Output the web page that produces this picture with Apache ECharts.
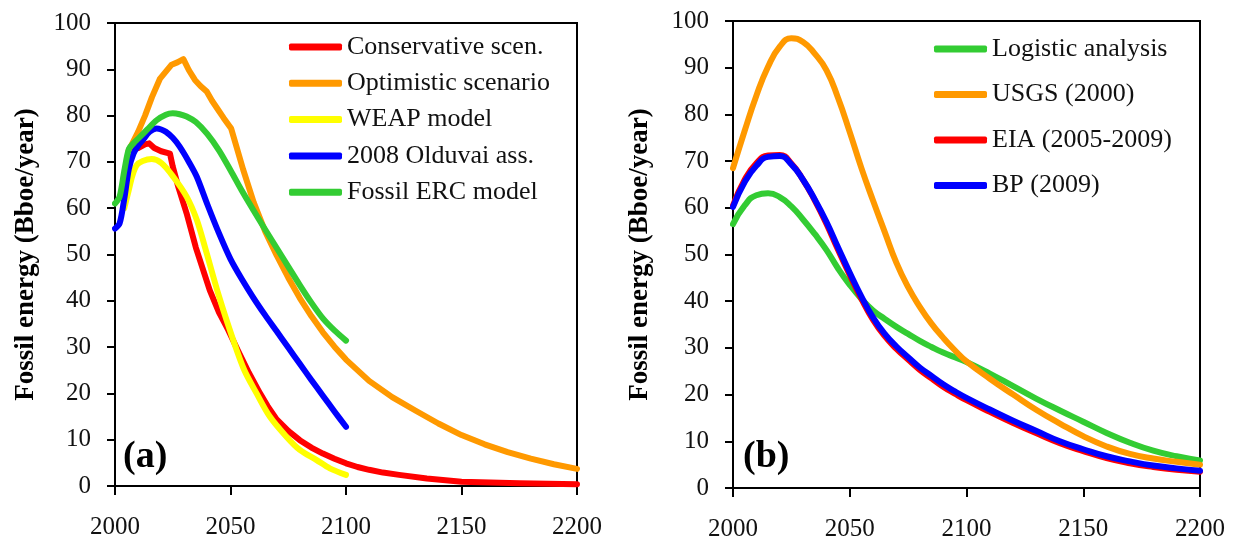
<!DOCTYPE html>
<html>
<head>
<meta charset="utf-8">
<script src="https://cdn.jsdelivr.net/npm/echarts@6/dist/echarts.min.js"></script>
<style>
html,body{margin:0;padding:0;background:#fff;}
#chart{width:1238px;height:545px;}
</style>
</head>
<body>
<div id="chart"></div>
<script>
// ---------- Panel (a) ----------
const consYears = [2006,2010,2013,2014.8,2017,2020,2023.8,2025,2027.4,2031,2035,2041,2045,2049,2053,2058,2062.8,2066,2070,2075,2080,2085,2090,2095,2100,2105,2110,2116,2123,2135,2150,2175,2200];
const consVals  = [72.5,73,73.8,74,73,72.3,71.8,69,64.6,58.9,51.5,42.3,37.5,33.7,29.5,24.4,20,17.3,14.4,11.9,9.9,8.3,7.0,5.9,4.9,4.1,3.5,2.9,2.4,1.6,0.9,0.6,0.4];

const optYears = [2006,2008,2010,2013,2016,2019.5,2022,2024.5,2027,2029.6,2032,2034.6,2037,2039.7,2042,2044.7,2047,2050.3,2055.5,2060,2065,2070,2075,2080,2085,2090,2095,2100,2110,2120,2130,2140,2150,2160,2170,2180,2190,2200];
const optVals  = [72.5,74.5,76.5,80,84,88,89.5,91,91.5,92.2,89.8,87.7,86.4,85.2,83.2,81.2,79.5,77.2,68.3,61.3,55,49.8,45,40.6,36.7,33.2,30.1,27.3,22.7,19.2,16.3,13.5,11,9,7.3,5.9,4.7,3.7];

const weapYears = [2004,2006,2007.5,2009.4,2012,2015.9,2020.2,2025.2,2031,2035.4,2039,2045,2051.2,2056,2061.3,2067,2074.3,2080,2087.3,2093,2100];
const weapVals  = [60,64,67,69.3,70.2,70.6,69.7,66.8,62.5,57.5,51.5,41,31.5,25,20,15,10.6,7.8,5.6,3.8,2.4];

const oldYears = [2000,2002,2004,2006,2008,2010,2012,2015,2018,2020,2022,2025,2028,2032,2035.4,2040,2045,2050,2055,2060,2065,2070,2075,2080,2085,2090,2095,2100];
const oldVals  = [55.6,56.7,62,68.5,71.8,73.5,74.7,76.5,77.2,77,76.5,75.2,73.3,70,66.8,60.8,54.6,49,44.6,40.6,36.9,33.4,29.9,26.4,22.9,19.5,16.1,12.8];

const ercYears = [2000,2002,2004,2006,2008,2010,2014,2018,2022,2025,2028,2031,2035,2040,2045,2050,2055,2060,2065,2070,2075,2080,2085,2090,2095,2100];
const ercVals  = [61,62.5,68,72.8,74,75,77,79,80.2,80.5,80.3,79.8,78.6,76,72.5,68.2,63.7,59.5,55.4,51.4,47.4,43.4,39.6,36.2,33.6,31.4];

// ---------- Panel (b) ----------
const bYears = [2000,2005,2010,2015,2020,2025,2030,2035,2040,2045,2050,2055,2060,2065,2070,2075,2080,2085,2090,2095,2100,2110,2120,2130,2140,2150,2160,2170,2180,2190,2200];
const logVals  = [56.5,60.5,62.7,63.1,62.3,60.3,57.5,54.4,51,47,43.5,40.5,38,36.2,34.5,33,31.5,30.2,29,28,27,24.5,21.8,19.1,16.6,14.2,11.8,9.7,8.0,6.8,5.9];
const usgsVals = [68.5,76.5,84,90.2,94.5,96.3,95.5,93,89.5,83.5,76.2,68.5,61.5,54.8,48.2,43,38.8,35.2,32.2,29.5,27.1,23.4,20,16.7,13.8,11.1,8.9,7.3,6.3,5.6,5.0];
const eiaVals  = [60.5,66,69.5,71.2,71.3,69.5,66,61.6,56.6,51,45.6,40.5,36,32.5,29.8,27.5,25.3,23.5,21.7,20.2,18.8,16.3,13.9,11.7,9.6,7.9,6.4,5.3,4.5,3.9,3.5];
const bpVals   = [60.2,65.5,69,70.9,71.1,69.3,66,61.8,57,51.5,46.1,41,36.5,33,30.3,28,25.8,24,22.2,20.7,19.3,16.8,14.4,12.2,10.0,8.3,6.8,5.7,4.8,4.2,3.7];

const xTicks = [2000,2050,2100,2150,2200];
const yTicks = [0,10,20,30,40,50,60,70,80,90,100];

const zip = (xs, ys) => xs.map((x, i) => [x, ys[i]]);
const FONT = 'Liberation Serif';

function lineSeries(name, xs, ys, color, idx, smooth) {
  return {
    name, type: 'line', xAxisIndex: idx, yAxisIndex: idx,
    data: zip(xs, ys), showSymbol: false, symbol: 'none', smooth: smooth,
    lineStyle: { color, width: 6, cap: 'round', join: 'round' },
    itemStyle: { color },
    animation: false
  };
}

const xAxisBase = (gi) => ({
  type: 'value', gridIndex: gi, min: xTicks[0], max: xTicks[xTicks.length-1], interval: 50,
  axisLine: { show: true, onZero: false, lineStyle: { color: '#000', width: 2 } },
  axisTick: { show: true, inside: false, length: 9, lineStyle: { color: '#000', width: 2 } },
  axisLabel: { color: '#111', fontFamily: FONT, fontSize: 25, margin: 29, formatter: v => String(v) },
  splitLine: { show: false }
});
const yAxisBase = (gi, gap) => ({
  type: 'value', gridIndex: gi, min: yTicks[0], max: yTicks[yTicks.length-1], interval: 10,
  axisLine: { show: true, onZero: false, lineStyle: { color: '#000', width: 2 } },
  axisTick: { show: true, inside: false, length: 8, lineStyle: { color: '#000', width: 2 } },
  axisLabel: { color: '#111', fontFamily: FONT, fontSize: 25, margin: 24 },
  splitLine: { show: false },
  name: 'Fossil energy (Bboe/year)', nameLocation: 'middle', nameGap: gap, nameRotate: 90,
  nameTextStyle: { color: '#000', fontFamily: FONT, fontWeight: 'bold', fontSize: 27 }
});

const legendText = { color: '#111', fontFamily: FONT, fontSize: 26, lineHeight: 24 };

const option = {
  backgroundColor: '#fff',
  animation: false,
  title: [
    { text: '(a)', left: 118, top: 433, textStyle: { fontFamily: FONT, fontWeight: 'bold', fontSize: 38, color: '#000' } },
    { text: '(b)', left: 738, top: 433, textStyle: { fontFamily: FONT, fontWeight: 'bold', fontSize: 38, color: '#000' } }
  ],
  grid: [
    { left: 115, top: 23, width: 462, height: 463, show: true, borderColor: '#000', borderWidth: 2, backgroundColor: 'transparent', containLabel: false },
    { left: 733, top: 21, width: 467, height: 467, show: true, borderColor: '#000', borderWidth: 2, backgroundColor: 'transparent', containLabel: false }
  ],
  xAxis: [xAxisBase(0), xAxisBase(1)],
  yAxis: [yAxisBase(0, 75), yAxisBase(1, 79)],
  legend: [
    { orient: 'vertical', left: 284, top: 29, itemWidth: 53, itemHeight: 7, itemGap: 10.3, icon: 'roundRect',
      textStyle: legendText, data: ['Conservative scen.', 'Optimistic scenario', 'WEAP model', '2008 Olduvai ass.', 'Fossil ERC model'] },
    { orient: 'vertical', left: 929, top: 31, itemWidth: 53, itemHeight: 7, itemGap: 19.5, icon: 'roundRect',
      textStyle: legendText, data: ['Logistic analysis', 'USGS (2000)', 'EIA (2005-2009)', 'BP (2009)'] }
  ],
  series: [
    lineSeries('Conservative scen.', consYears, consVals, '#ff0000', 0, false),
    lineSeries('Optimistic scenario', optYears, optVals, '#ff9900', 0, false),
    lineSeries('WEAP model', weapYears, weapVals, '#ffff00', 0, 0.3),
    lineSeries('2008 Olduvai ass.', oldYears, oldVals, '#0000ff', 0, 0.3),
    lineSeries('Fossil ERC model', ercYears, ercVals, '#33cc33', 0, 0.3),
    lineSeries('Logistic analysis', bYears, logVals, '#33cc33', 1, true),
    lineSeries('USGS (2000)', bYears, usgsVals, '#ff9900', 1, true),
    lineSeries('EIA (2005-2009)', bYears, eiaVals, '#ff0000', 1, true),
    lineSeries('BP (2009)', bYears, bpVals, '#0000ff', 1, true)
  ]
};

const chart = echarts.init(document.getElementById('chart'), null, { renderer: 'canvas' });
chart.setOption(option);
</script>
</body>
</html>
